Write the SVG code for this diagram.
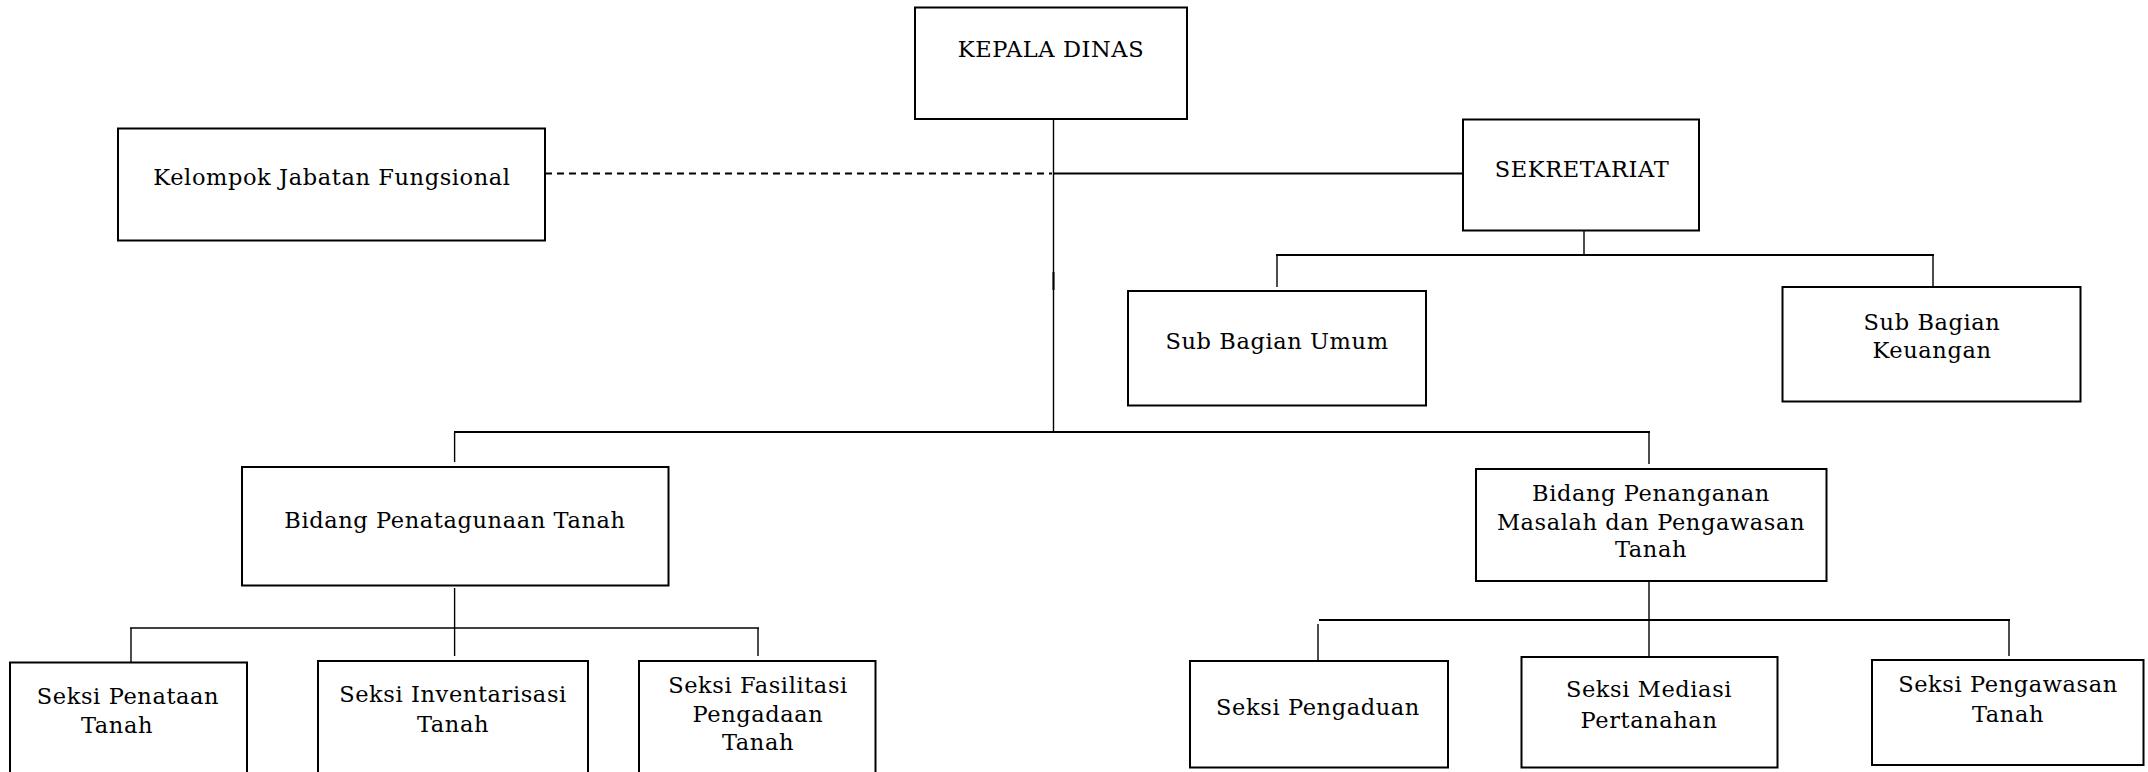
<svg xmlns="http://www.w3.org/2000/svg" width="2148" height="772" viewBox="0 0 2148 772">
<style>
.box{fill:#fff;stroke:#000;stroke-width:2}
.ln{stroke:#000;stroke-width:2;fill:none}
.thin{stroke:#000;stroke-width:1.4;fill:none}
.dash{stroke:#000;stroke-width:2;fill:none;stroke-dasharray:7 5}
text{font-family:"DejaVu Serif","Liberation Serif",serif;font-size:22.5px;letter-spacing:0.6px;fill:#000;text-anchor:middle}
</style>
<rect width="2148" height="772" fill="#fff"/>
<g id="connectors">
<line class="thin" x1="1053.5" y1="119" x2="1053.5" y2="432"/>
<line class="ln" x1="1053.5" y1="272" x2="1053.5" y2="290"/>
<line class="dash" x1="545" y1="173.5" x2="1052" y2="173.5"/>
<line class="ln" x1="1054" y1="173.5" x2="1463" y2="173.5"/>
<line class="thin" x1="1584" y1="231" x2="1584" y2="255"/>
<line class="ln" x1="1276" y1="255" x2="1934" y2="255"/>
<line class="thin" x1="1277" y1="255" x2="1277" y2="287"/>
<line class="thin" x1="1933" y1="255" x2="1933" y2="287"/>
<line class="ln" x1="454" y1="432" x2="1650" y2="432"/>
<line class="thin" x1="454.6" y1="432" x2="454.6" y2="462"/>
<line class="thin" x1="1649" y1="432" x2="1649" y2="464"/>
<line class="thin" x1="454.6" y1="588" x2="454.6" y2="656"/>
<line class="thin" x1="130" y1="628" x2="759" y2="628"/>
<line class="thin" x1="131" y1="628" x2="131" y2="662"/>
<line class="thin" x1="758" y1="628" x2="758" y2="656"/>
<line class="thin" x1="1649" y1="581" x2="1649" y2="656"/>
<line class="ln" x1="1319" y1="620" x2="2010" y2="620"/>
<line class="thin" x1="1318" y1="624" x2="1318" y2="661"/>
<line class="thin" x1="2009" y1="620" x2="2009" y2="656"/>
</g>
<g id="kepala-dinas"><rect class="box" x="915" y="7.5" width="272" height="111.5"/><text x="1051" y="57">KEPALA DINAS</text></g>
<g id="kelompok"><rect class="box" x="118" y="128.5" width="427" height="112"/><text x="332" y="185">Kelompok Jabatan Fungsional</text></g>
<g id="sekretariat"><rect class="box" x="1463" y="119.5" width="236" height="111"/><text x="1582" y="177">SEKRETARIAT</text></g>
<g id="sub-umum"><rect class="box" x="1128" y="291" width="298" height="114.5"/><text x="1277" y="349">Sub Bagian Umum</text></g>
<g id="sub-keuangan"><rect class="box" x="1782.5" y="287" width="298" height="114.5"/><text x="1932" y="330">Sub Bagian</text><text x="1932" y="358">Keuangan</text></g>
<g id="bidang-penatagunaan"><rect class="box" x="242" y="467" width="426.5" height="118.5"/><text x="455" y="528">Bidang Penatagunaan Tanah</text></g>
<g id="bidang-penanganan"><rect class="box" x="1476" y="469" width="350.5" height="112"/><text x="1651" y="501">Bidang Penanganan</text><text x="1651" y="530">Masalah dan Pengawasan</text><text x="1651" y="557">Tanah</text></g>
<g id="seksi-penataan"><rect class="box" x="10" y="662.5" width="237" height="120"/><text x="128" y="704">Seksi Penataan</text><text x="117" y="733">Tanah</text></g>
<g id="seksi-inventarisasi"><rect class="box" x="318" y="661" width="270" height="120"/><text x="453" y="702">Seksi Inventarisasi</text><text x="453" y="732">Tanah</text></g>
<g id="seksi-fasilitasi"><rect class="box" x="639" y="661" width="236.5" height="120"/><text x="758" y="693">Seksi Fasilitasi</text><text x="758" y="722">Pengadaan</text><text x="758" y="750">Tanah</text></g>
<g id="seksi-pengaduan"><rect class="box" x="1190" y="661" width="258" height="106.5"/><text x="1318" y="715">Seksi Pengaduan</text></g>
<g id="seksi-mediasi"><rect class="box" x="1521.5" y="657" width="256" height="110.5"/><text x="1649" y="697">Seksi Mediasi</text><text x="1649" y="728">Pertanahan</text></g>
<g id="seksi-pengawasan"><rect class="box" x="1872" y="660" width="271.5" height="105"/><text x="2008" y="692">Seksi Pengawasan</text><text x="2008" y="722">Tanah</text></g>
</svg>
